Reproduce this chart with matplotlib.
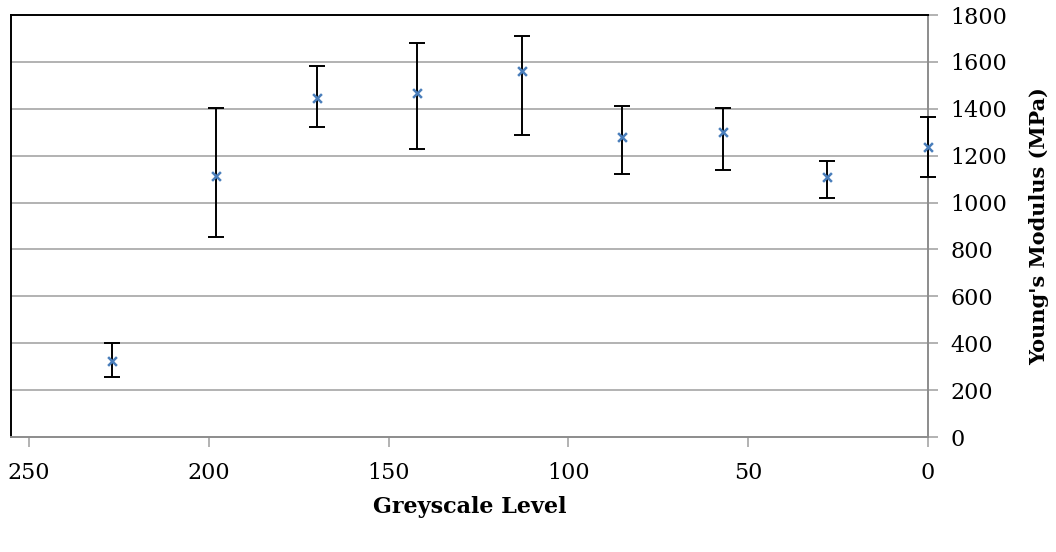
import matplotlib
matplotlib.use('Agg')
import matplotlib.pyplot as plt

# Values
greyscale = [227, 198, 170, 142, 113, 85, 57, 28, 0]
modulus = [325, 1113, 1446, 1469, 1563, 1280, 1301, 1108, 1238]
err_low = [69, 260, 122, 239, 276, 159, 163, 90, 128]
err_high = [77, 289, 135, 211, 149, 131, 101, 71, 126]
yticks = [0, 200, 400, 600, 800, 1000, 1200, 1400, 1600, 1800]
xticks = [250, 200, 150, 100, 50, 0]

plt.rcParams['font.family'] = ['DejaVu Serif']

fig = plt.figure(figsize=(10.56, 5.52), dpi=100)
ax = fig.add_axes([11 / 1056, 1 - 437 / 552, (928 - 11) / 1056, (437 - 15) / 552])

grid_col = '#a6a6a6'
for y in yticks[1:-1]:
    ax.axhline(y, color=grid_col, lw=1.2, zorder=1)

eb = ax.errorbar(greyscale, modulus, yerr=[err_low, err_high], fmt='none',
                 ecolor='black', elinewidth=1.4, capsize=6, capthick=1.4, zorder=4)
for art in eb.lines[1] + eb.lines[2]:
    art.set_clip_on(False)
ax.scatter(greyscale, modulus, marker='x', s=40, color='#4a7ebb',
           linewidths=1.8, zorder=5, clip_on=False)

ax.set_xlim(255, 0)
ax.set_ylim(0, 1800)
ax.set_xticks(xticks)
ax.set_yticks(yticks)

ax.yaxis.tick_right()
ax.yaxis.set_label_position('right')
ax.tick_params(axis='both', direction='out', color=grid_col, width=1.2,
               length=7, labelsize=16)
ax.tick_params(axis='y', pad=9)
ax.tick_params(axis='x', pad=11)

ax.spines['left'].set_color('black')
ax.spines['top'].set_color('black')
ax.spines['left'].set_linewidth(1.4)
ax.spines['top'].set_linewidth(1.4)
ax.spines['right'].set_color('#8c8c8c')
ax.spines['bottom'].set_color('#8c8c8c')
ax.spines['right'].set_linewidth(1.4)
ax.spines['bottom'].set_linewidth(1.4)

ax.set_xlabel('Greyscale Level', fontsize=16, fontweight='bold', labelpad=9)
ax.set_ylabel("Young's Modulus (MPa)", fontsize=15, fontweight='bold',
              labelpad=16, rotation=90)

fig.savefig('out.png', dpi=100)
